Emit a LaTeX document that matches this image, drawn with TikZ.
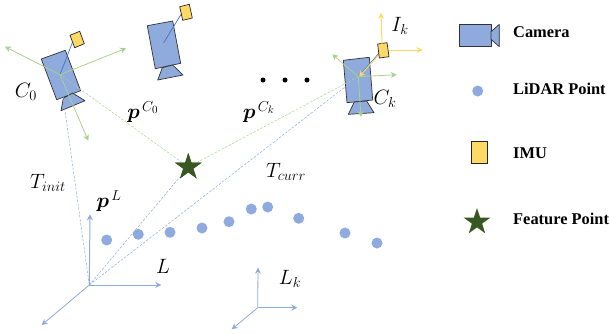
\documentclass[tikz,border=0pt]{standalone}
\usepackage{amsmath,amssymb}
\usepackage{fontspec}
\setmainfont{Liberation Serif}
\usetikzlibrary{shapes.geometric,arrows.meta}
\definecolor{cblue}{HTML}{8FAADC}
\definecolor{lblue}{HTML}{4472C4}
\definecolor{cyel}{HTML}{FFD966}
\definecolor{cgreen}{HTML}{A9D18E}
\definecolor{cdark}{HTML}{385723}
\tikzset{
  shell/.style={draw=black!80,line width=0.7pt,fill=cblue,line join=round},
  imubox/.style={draw=black!85,line width=0.7pt,fill=cyel},
  greenax/.style={draw=cgreen,line width=0.8pt,-{Stealth[length=6pt,width=6pt]}},
  yelax/.style={draw=cyel,line width=1pt,-{Stealth[length=6pt,width=6pt]}},
  blueax/.style={draw=cblue,line width=1pt,-{Stealth[length=6pt,width=6pt]}},
  bluedash/.style={draw=cblue,line width=0.5pt,dash pattern=on 2.5pt off 1.5pt},
  greendash/.style={draw=cgreen,line width=0.5pt,dash pattern=on 2.5pt off 1.5pt},
  lidar/.style={circle,fill=cblue,inner sep=0pt,minimum size=11pt},
  starmark/.style={star,star points=5,star point ratio=2.618,fill=cdark,inner sep=0pt,minimum size=28pt},
  mathlab/.style={inner sep=0pt,font=\fontsize{22.5}{26}\selectfont},
  legendtext/.style={anchor=west,inner sep=0pt,font=\fontsize{16.4}{19}\selectfont\bfseries},
  dotmark/.style={circle,fill=black,inner sep=0pt,minimum size=5pt}
}
\begin{document}
\begin{tikzpicture}[x=1pt,y=-1pt]
\useasboundingbox (0,0) rectangle (610,333);
\coordinate (o) at (89.3,285);
\coordinate (oy) at (90,214.3);
\coordinate (ox) at (161.3,285);
\coordinate (oz) at (41.7,325);
\coordinate (k) at (257.7,307.7);
\coordinate (ky) at (258,267.7);
\coordinate (kx) at (297.3,307.7);
\coordinate (kz) at (231.7,329.3);
\coordinate (c0) at (60,74.7);
\coordinate (c1) at (163.7,42.7);
\coordinate (ck) at (358.3,76.7);
\node[starmark] (fp) at (188.3,167) {};
% camera 0
\fill[shell] (41.3,59)--(65.3,50.3)--(80.7,90.7)--(56.7,99.7)--cycle;
\fill[shell] (72.7,93)--(85,100.7)--(61,110.7)--(63.3,98.3)--cycle;
\coordinate (i0) at (72.7,41.7);
\draw[lblue,line width=0.7pt] (c0)--(i0);
\filldraw[imubox] (70,35.3)--(79.7,31.3)--(84.3,43.7)--(74.7,47.7)--cycle;
% camera 1
\fill[shell] (147.3,25.7)--(172.7,21)--(180.7,63.3)--(155.3,68.7)--cycle;
\fill[shell] (172.7,65)--(183,75)--(157.7,80)--(162.3,67.7)--cycle;
\coordinate (i1) at (181.7,13.3);
\draw[lblue,line width=0.7pt] (c1)--(i1);
\filldraw[imubox] (179.7,6.7)--(189.3,4.3)--(192.3,18)--(182.7,20.3)--cycle;
% camera k
\fill[shell] (343.3,60.3)--(369.3,57.3)--(372.7,100)--(347,102.7)--cycle;
\fill[shell] (354.3,102)--(366.7,101)--(374,112.7)--(348.3,114.3)--cycle;
\coordinate (ik) at (383.3,50);
\coordinate (ikb) at (380,52);
\draw[lblue,line width=0.7pt] (ck)--(ikb);
\draw[yelax] (ik)--(359,76.7) coordinate (ikc);
\filldraw[imubox] (377.7,44)--(387,42.7)--(389,56.7)--(379.3,58)--cycle;
\draw[yelax] (382,44)--(381,12.7) coordinate (iku);
\draw[yelax] (389,50)--(422.7,50) coordinate (ikr);
% dashed
\draw[bluedash] (o)--(c0);
\draw[bluedash] (o)--(fp);
\draw[bluedash] (o)--(ck);
\draw[greendash] (fp)--(c0);
\draw[greendash] (fp)--(ck);
\node[starmark] at (fp) {};
% camera axes
\draw[greenax] (c0)--(5,46.7) coordinate (c0a);
\draw[greenax] (c0)--(126,48.3) coordinate (c0b);
\draw[greenax] (c0)--(88.3,140.7) coordinate (c0c);
\draw[greenax] (ck)--(332.3,54.3) coordinate (cka);
\draw[greenax] (ck)--(396.7,74.7) coordinate (ckb);
\draw[greenax] (ck)--(361,117) coordinate (ckc);
% lidar frames
\draw[blueax] (o)--(oy);
\draw[blueax] (o)--(ox);
\draw[blueax,line width=0.8pt] (o)--(oz);
\draw[blueax,line width=0.8pt] (k)--(ky);
\draw[blueax,line width=0.8pt] (k)--(kx);
\draw[blueax,line width=0.8pt] (k)--(kz);
% lidar points
\foreach \n/\x/\y in {a/106.7/240,b/138.3/234.3,c/170/232.3,d/202/228,e/229/221.7,f/251.3/209,g/267.7/207,h/298.7/218.3,i/345/233,j/377/243}
  \node[lidar] (l\n) at (\x,\y) {};
% three dots
\node[dotmark] (d1) at (263,80) {};
\node[dotmark] (d2) at (285,80) {};
\node[dotmark] (d3) at (307,80) {};
% labels
\node[mathlab] (lc0) at (26,92) {$C_0$};
\node[mathlab] (lpc0) at (143,112) {$\boldsymbol{p}^{\,C_0}$};
\node[mathlab] (lpck) at (259,112) {$\boldsymbol{p}^{\,C_k}$};
\node[mathlab] (lck) at (385,99) {$C_k$};
\node[mathlab] (lik) at (400,26) {$I_k$};
\node[mathlab] (lti) at (48,183) {$T_{init}$};
\node[mathlab] (ltc) at (286,172) {$T_{curr}$};
\node[mathlab] (lpl) at (109,201) {$\boldsymbol{p}^{\,L}$};
\node[mathlab] (ll) at (163,266) {$L$};
\node[mathlab] (llk) at (290,279) {$L_k$};
% legend
\filldraw[shell] (459.7,24.3) rectangle (491,46.7);
\filldraw[shell] (491,31.7)--(499.3,24.3)--(499.3,46.7)--(491,39.3)--cycle;
\node[lidar] (lg2) at (477.7,91) {};
\filldraw[imubox] (471.3,141.3) rectangle (487.7,163);
\node[starmark] (lg4) at (477,222) {};
\node[legendtext] (t1) at (513,32) {Camera};
\node[legendtext] (t2) at (513,89) {LiDAR Point};
\node[legendtext] (t3) at (513,153) {IMU};
\node[legendtext] (t4) at (513,219) {Feature Point};
\end{tikzpicture}
\end{document}
